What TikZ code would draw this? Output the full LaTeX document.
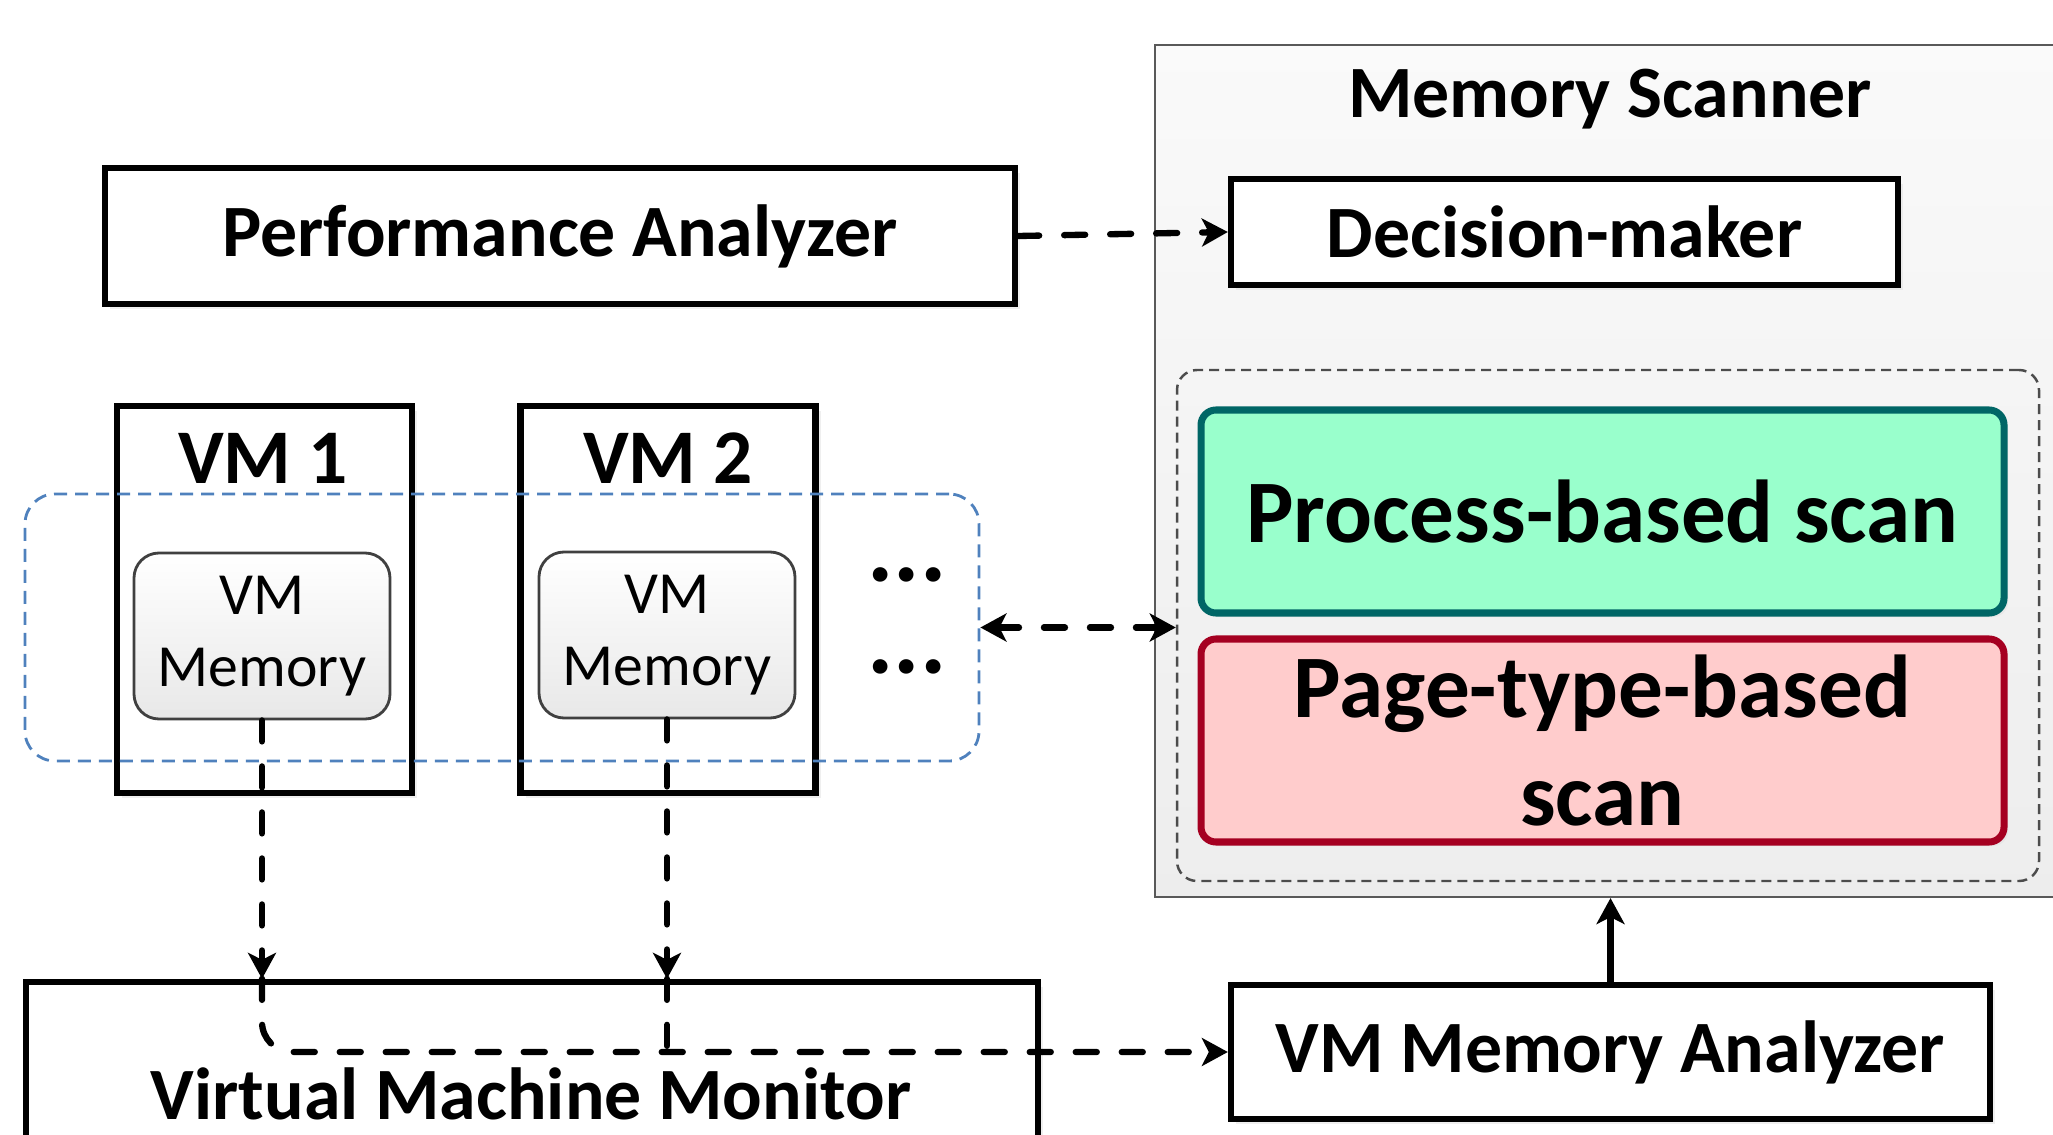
\documentclass[tikz,border=0pt]{standalone}
\usepackage{fontspec}
\setmainfont{Carlito}
\usetikzlibrary{arrows.meta, positioning, shadows}
\definecolor{mintfill}{HTML}{99FFCC}
\definecolor{tealline}{HTML}{006666}
\definecolor{pinkfill}{HTML}{FFCCCC}
\definecolor{crimsonline}{HTML}{A50021}
\definecolor{groupblue}{RGB}{79,129,189}

\begin{document}
\begin{tikzpicture}[
  box/.style={draw, line width=1.8pt, fill=white, inner sep=0pt, font=\fontsize{21}{25}\selectfont\bfseries,
    drop shadow={shadow xshift=0.5mm, shadow yshift=-0.5mm, fill=black!12}},
  scanbox/.style={line width=2pt, rounded corners=1.5mm, inner sep=0pt, minimum width=8.03cm, minimum height=2.03cm,
    align=center, font=\fontsize{25.4}{30.5}\selectfont\bfseries,
    drop shadow={shadow xshift=0.4mm, shadow yshift=-0.4mm, fill=black!12}},
  membox/.style={draw=black!75, line width=0.8pt, rounded corners=2.5mm, top color=white, bottom color=black!9,
    minimum width=2.56cm, minimum height=1.66cm, inner sep=0pt, align=center, font=\fontsize{17}{20.5}\selectfont},
  link/.style={line width=1.8pt, line cap=round, dash pattern=on 2.1mm off 2.5mm},
  arrowend/.style={-{Stealth[length=2.6mm, width=2.8mm, inset=0.7mm]}},
]
  \useasboundingbox (0,0) rectangle (20.53,-11.35);
  \clip (0,0) rectangle (20.53,-11.35);

  % memory scanner panel
  \node[draw=black!65, line width=0.6pt, top color=black!2, bottom color=black!7, minimum width=9.45cm, minimum height=8.52cm] (scanner) at (16.275,-4.71) {};
  \node[anchor=base, font=\fontsize{21}{25}\selectfont\bfseries] (scantitle) at (16.10,-1.18) {Memory Scanner};
  \node[box, minimum width=6.67cm, minimum height=1.06cm] (decision) at (15.645,-2.32) {Decision-maker};
  \node[draw=black!70, line width=0.7pt, dash pattern=on 1mm off 0.6mm, rounded corners=2mm, minimum width=8.62cm, minimum height=5.11cm] (inner) at (16.08,-6.255) {};
  \node[scanbox, draw=tealline, fill=mintfill] (process) at (16.025,-5.115) {Process-based scan};
  \node[scanbox, draw=crimsonline, fill=pinkfill] (pagetype) at (16.025,-7.405) {Page-type-based\\scan};

  % analyzers and monitor
  \node[box, minimum width=9.10cm, minimum height=1.36cm] (perf) at (5.60,-2.36) {Performance Analyzer};
  \node[box, minimum width=7.59cm, minimum height=1.34cm] (analyzer) at (16.105,-10.52) {VM Memory Analyzer};
  \node[box, minimum width=10.12cm, minimum height=3cm] (vmm) at (5.32,-11.32) {};
  \node[anchor=base, font=\fontsize{21}{25}\selectfont\bfseries] (vmmlabel) at (5.31,-11.19) {Virtual Machine Monitor};

  % virtual machines
  \node[box, minimum width=2.95cm, minimum height=3.87cm] (vm1) at (2.645,-5.995) {};
  \node[box, minimum width=2.95cm, minimum height=3.87cm] (vm2) at (6.68,-5.995) {};
  \node[font=\fontsize{22}{25}\selectfont\bfseries] (vm1title) at (2.63,-4.58) {VM 1};
  \node[font=\fontsize{22}{25}\selectfont\bfseries] (vm2title) at (6.68,-4.58) {VM 2};
  \node[draw=groupblue, line width=0.8pt, dash pattern=on 1.3mm off 0.8mm, rounded corners=3mm, minimum width=9.54cm, minimum height=2.67cm] (group) at (5.02,-6.275) {};
  \node[membox] (mem1) at (2.62,-6.36) {VM\\Memory};
  \node[membox] (mem2) at (6.67,-6.35) {VM\\Memory};
  \node[font=\fontsize{28}{28}\selectfont\bfseries] (dotsup) at (9.07,-5.75) {...};
  \node[font=\fontsize{28}{28}\selectfont\bfseries] (dotsdown) at (9.07,-6.67) {...};

  % connectors
  \draw[link, arrowend] (perf.east) -- (decision.west);
  \draw[link, {Stealth[length=2.6mm, width=2.8mm, inset=0.7mm]}-{Stealth[length=2.6mm, width=2.8mm, inset=0.7mm]}] (group.east) -- (group.east -| inner.west);
  \draw[link, arrowend] (mem1.south) -- (mem1.south |- vmm.north);
  \draw[link, arrowend] (mem2.south) -- (mem2.south |- vmm.north);
  \draw[link, rounded corners=3mm, arrowend] (mem1.south |- vmm.north) -- (mem1.south |- analyzer.west) -- (analyzer.west);
  \draw[link] (mem2.south |- vmm.north) -- (mem2.south |- analyzer.west);
  \draw[line width=1.8pt, arrowend] (analyzer.north) -- (analyzer.north |- scanner.south);
\end{tikzpicture}
\end{document}
